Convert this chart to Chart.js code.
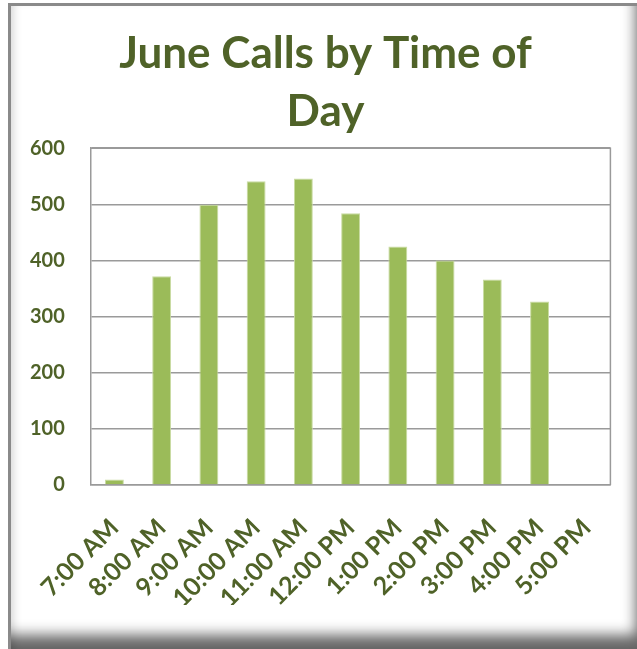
<!DOCTYPE html>
<html>
<head>
<meta charset="utf-8">
<script src="https://cdn.jsdelivr.net/npm/chart.js@4"></script>
<style>
  html, body { margin:0; padding:0; background:#fff; }
  body { width:637px; height:649px; position:relative; overflow:hidden; }
  #frame {
    position:absolute; left:8px; top:3px; width:629px; height:646px;
    box-sizing:border-box;
    border-left:3px solid #8a8a8a; border-top:3px solid #8a8a8a;
    box-shadow: inset -9px -22px 14px -8px rgba(0,0,0,0.6), inset 8px 0 10px -6px rgba(0,0,0,0.18);
    background:#fff;
  }
  #wrap { position:absolute; left:0; top:0; width:637px; height:649px; }
</style>
</head>
<body>
<div id="frame"></div>
<div id="wrap"><canvas id="c" width="637" height="649"></canvas></div>
<script>
const categories = ['7:00 AM','8:00 AM','9:00 AM','10:00 AM','11:00 AM','12:00 PM','1:00 PM','2:00 PM','3:00 PM','4:00 PM','5:00 PM'];
const calls = [10, 372, 499, 541, 546, 484, 425, 400, 366, 327, null];
const titleLines = ['June Calls by Time of', 'Day'];
const yTicks = [0, 100, 200, 300, 400, 500, 600];

const TEXT = '#4F6228';
const FONT = 'Lato, "Open Sans", sans-serif';

const boxPlugin = {
  id: 'box',
  afterLayout(chart) {
    const t = chart.titleBlock;
    if (t) { t.left += 16; t.right += 16; }
  },
  afterDraw(chart) {
    const a = chart.chartArea, ctx = chart.ctx;
    ctx.save();
    ctx.strokeStyle = '#9a9a9a';
    ctx.lineWidth = 1.5;
    ctx.beginPath();
    ctx.moveTo(a.left, a.top); ctx.lineTo(a.right, a.top); ctx.lineTo(a.right, a.bottom);
    ctx.stroke();
    ctx.restore();
  }
};

new Chart(document.getElementById('c'), {
  type: 'bar',
  data: {
    labels: categories,
    datasets: [{
      data: calls,
      backgroundColor: '#9BBB59',
      borderColor: '#C9DBA2',
      borderWidth: 1,
      categoryPercentage: 1,
      barPercentage: 0.4
    }]
  },
  options: {
    responsive: false,
    animation: false,
    layout: { padding: { left: 4, right: 22, top: 25, bottom: 44 } },
    plugins: {
      legend: { display: false },
      tooltip: { enabled: false },
      title: {
        display: true,
        text: titleLines,
        color: TEXT,
        font: { family: FONT, size: 44, weight: 'bold', lineHeight: 1.32 },
        padding: { top: 0, bottom: 7 }
      }
    },
    scales: {
      y: {
        min: 0, max: 600,
        afterBuildTicks(scale) { scale.ticks = yTicks.map(v => ({ value: v })); },
        ticks: { color: TEXT, font: { family: FONT, size: 20, weight: 'bold' }, padding: 26 },
        grid: { color: '#9a9a9a', lineWidth: 1.5, drawTicks: false },
        border: { display: true, color: '#9a9a9a', width: 1.5 }
      },
      x: {
        afterFit(scale) { scale.height = 120; },
        ticks: { color: TEXT, font: { family: FONT, size: 25, weight: 'bold' }, minRotation: 45, maxRotation: 45, padding: 28 },
        grid: { display: false, drawTicks: false },
        border: { display: true, color: '#9a9a9a', width: 1.5 }
      }
    }
  },
  plugins: [boxPlugin]
});
</script>
</body>
</html>
